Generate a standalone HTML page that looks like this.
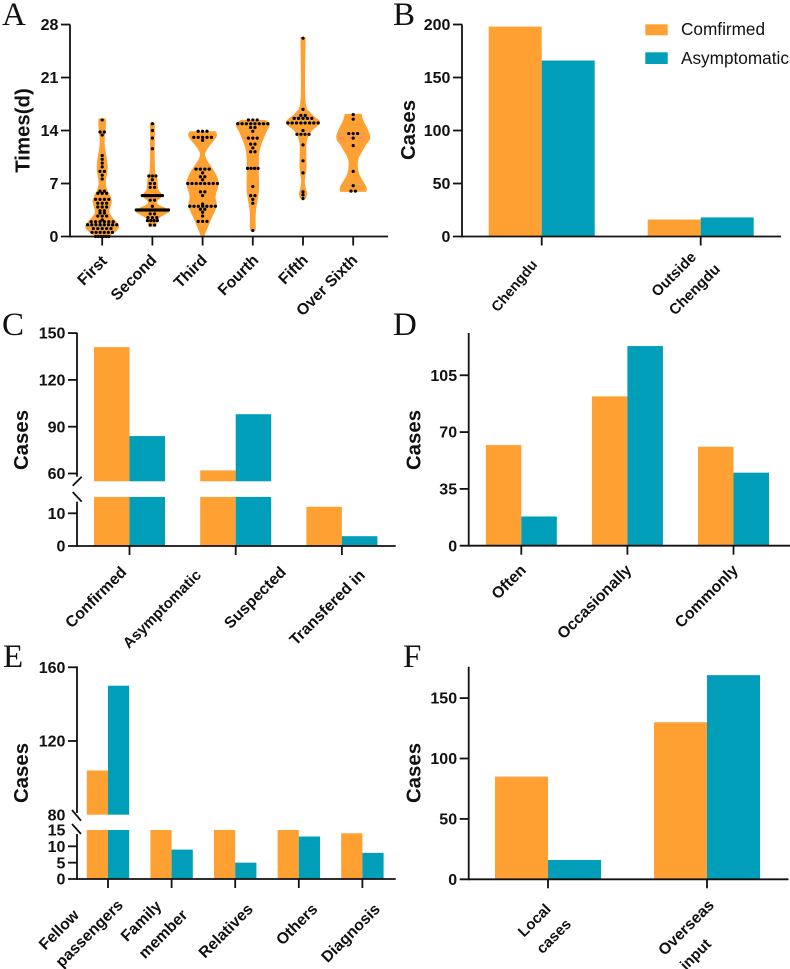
<!DOCTYPE html>
<html>
<head>
<meta charset="utf-8">
<title>Six panel case charts</title>
<style>
html,body{margin:0;padding:0;background:#fff;}
svg{display:block;}
text{font-family:"Liberation Sans",sans-serif;fill:#111;}
.panel-letter{font-family:"Liberation Serif",serif;font-size:33px;}
.tick{font-size:16px;font-weight:bold;text-anchor:end;}
.title{font-size:20.4px;font-weight:bold;text-anchor:middle;}
.cat{font-size:15.8px;font-weight:bold;text-anchor:end;}
.cat-small{font-size:15px;}
.leg{font-size:17.2px;}
</style>
</head>
<body>
<svg id="figure" xmlns="http://www.w3.org/2000/svg" width="790" height="969" viewBox="0 0 790 969">
<rect width="790" height="969" fill="#fff"/>
<g id="layer"></g>
<text class="panel-letter" x="2" y="25">A</text>
<text class="panel-letter" x="393" y="25">B</text>
<text class="panel-letter" x="2" y="335">C</text>
<text class="panel-letter" x="393" y="335">D</text>
<text class="panel-letter" x="3" y="667">E</text>
<text class="panel-letter" x="403" y="667">F</text>

<text class="title" transform="translate(29.5 130.5) rotate(-90)">Times(d)</text>
<text class="title" transform="translate(415 130) rotate(-90)">Cases</text>
<text class="title" transform="translate(28 440) rotate(-90)">Cases</text>
<text class="title" transform="translate(420.5 440) rotate(-90)">Cases</text>
<text class="title" transform="translate(28 773) rotate(-90)">Cases</text>
<text class="title" transform="translate(420.5 773) rotate(-90)">Cases</text>

<g>
<text class="cat" transform="translate(108 262) rotate(-45)">First</text>
<text class="cat" transform="translate(157.5 261) rotate(-45)">Second</text>
<text class="cat" transform="translate(208 261) rotate(-45)">Third</text>
<text class="cat" transform="translate(259.5 261) rotate(-45)">Fourth</text>
<text class="cat" transform="translate(309 261) rotate(-45)">Fifth</text>
<text class="cat" transform="translate(358.5 261) rotate(-45)">Over Sixth</text>
</g>
<g>
<text class="cat" style="font-size:14.4px" transform="translate(538 265) rotate(-50)">Chengdu</text>
<text class="cat cat-small" transform="translate(697 258) rotate(-45)">Outside</text>
<text class="cat cat-small" transform="translate(721 270) rotate(-45)">Chengdu</text>
</g>
<g>
<text class="cat" transform="translate(127.5 573) rotate(-45)">Confirmed</text>
<text class="cat" style="font-size:15px" transform="translate(202 576) rotate(-45)">Asymptomatic</text>
<text class="cat" transform="translate(287 573) rotate(-45)">Suspected</text>
<text class="cat" transform="translate(366 576) rotate(-45)">Transfered in</text>
</g>
<g>
<text class="cat" transform="translate(527 571) rotate(-45)">Often</text>
<text class="cat" transform="translate(632.5 571) rotate(-45)">Occasionally</text>
<text class="cat" transform="translate(739 571) rotate(-45)">Commonly</text>
</g>
<g>
<text class="cat" transform="translate(80 916) rotate(-45)">Fellow</text>
<text class="cat" transform="translate(124 906) rotate(-45)">passengers</text>
<text class="cat" transform="translate(162.5 907) rotate(-45)">Family</text>
<text class="cat" transform="translate(188.5 916) rotate(-45)">member</text>
<text class="cat" transform="translate(254 910) rotate(-45)">Relatives</text>
<text class="cat" transform="translate(318.5 910) rotate(-45)">Others</text>
<text class="cat" transform="translate(381 910) rotate(-45)">Diagnosis</text>
</g>
<g>
<text class="cat cat-small" transform="translate(551.7 910) rotate(-45)">Local</text>
<text class="cat cat-small" transform="translate(572 925) rotate(-45)">cases</text>
<text class="cat" transform="translate(715 906) rotate(-45)">Overseas</text>
<text class="cat cat-small" transform="translate(712 945) rotate(-45)">input</text>
</g>

<g>
<rect x="645.3" y="24.3" width="22.4" height="11" fill="#ffa033"/>
<text class="leg" x="681" y="35">Comfirmed</text>
<rect x="645.3" y="52.3" width="22.4" height="11.7" fill="#009eb8"/>
<text class="leg" x="681" y="64">Asymptomatic</text>
</g>
</svg>
<script>
// Panel A: violin outlines (value grid and density) and dot rows (value and count)
const violin1Grid = [15.6,14.5,12.3,9.2,6.8,4.8,3.1,1.3,0];
const violin1Density = [3.7,3.7,2.5,5.5,3.7,9.5,7.5,17,7];
const violin1Values = [15.4,13.8,13.4,10.7,10.2,9.7,9.2,8.6,8.1,7.6,6,5.7,4.9,4.4,3.9,3.4,3.1,2.7,2.2,1.95,1.55,1.05,0.55,0];
const violin1Counts = [1,2,1,1,1,1,1,2,1,1,2,3,4,3,3,2,2,3,1,6,8,5,6,6];
const violin2Grid = [15,9.2,7.5,6.2,5.4,4.4,3.4,2.4,1.3];
const violin2Density = [2.5,2.5,5,6,10,4.5,17,6.5,3.5];
const violin2Values = [14.9,14,13,11.6,8,7.5,7,6.5,5.4,4.8,4,3.5,3,2.5,2.1,1.5];
const violin2Counts = [1,1,1,1,3,1,2,2,12,2,1,26,2,3,4,2];
const violin3Grid = [13.9,13.2,11.6,10.5,8.3,7,5.3,4,2.1,0];
const violin3Density = [13,14,5,3,13,16,13,14,8,1.5];
const violin3Values = [13.9,13.1,12.7,8.9,8.4,7.9,7.5,7,5.9,5.4,4.3,4,3.6,3.2,2.7,2];
const violin3Counts = [3,5,1,4,1,2,1,8,2,1,1,7,2,1,1,3];
const violin4Grid = [15.4,14.8,13.6,11.4,8.9,6,3.2,0.8];
const violin4Density = [12,17,13,7,6,6,3,3];
const violin4Values = [15.4,14.9,14.4,13.9,13,12.2,11.7,11.2,9,6.6,5.4,4.9,4.4,0.8];
const violin4Counts = [3,8,2,1,3,2,1,2,4,1,2,1,1,1];
const violin5Grid = [26.3,25.5,18,16.3,15.1,13.8,12.3,9.2,7.2,5.7,5];
const violin5Density = [3,2.5,2.5,8,17,8,3.5,3.5,1.8,4,3];
const violin5Values = [26.2,16.8,16,15.6,15,14,13.5,12.1,10,8.4,5.9,5.5,5];
const violin5Counts = [1,1,2,5,8,1,4,1,1,1,1,1,1];
const violin6Grid = [16.2,15.4,13.2,11.9,10.1,8.3,6.6,5.9];
const violin6Density = [8.5,10,17,12,5,6,13,13];
const violin6Values = [16.1,15.5,13.6,13,12,8.6,6.7,6];
const violin6Counts = [1,1,3,1,1,1,1,2];
const violinMedians = [2.7,3.5,7,13,15,13];
const violinLowerQuartiles = [1.4,3.5,4,9,15,6.7];
const violinUpperQuartiles = [5.7,5.4,8.9,14.9,15.7,13.6];

// Tick labels
const ticksA = [0,7,14,21,28];
const ticksB = [0,50,100,150,200];
const ticksCUpper = [60,90,120,150];
const ticksCLower = [0,10];
const ticksD = [0,35,70,105];
const ticksEUpper = [80,120,160];
const ticksELower = [0,5,10,15];
const ticksF = [0,50,100,150];

// Bar values
const panelBConfirmed = [198,16];
const panelBAsymptomatic = [166,18];
const panelCConfirmed = [141,62,12];
const panelCAsymptomatic = [84,98,3];
const panelDConfirmed = [62,92,61];
const panelDAsymptomatic = [18,123,45];
const panelEConfirmed = [104,15,15,15,14];
const panelEAsymptomatic = [150,9,5,13,8];
const panelFConfirmed = [85,130];
const panelFAsymptomatic = [16,169];

const ORANGE = '#ffa033', TEAL = '#009eb8', INK = '#111';
const layer = document.getElementById('layer');
const NS = 'http://www.w3.org/2000/svg';

function mk(tag, attrs, name, parent) {
  const node = document.createElementNS(NS, tag);
  for (const k in attrs) node.setAttribute(k, attrs[k]);
  
  
  (parent || layer).appendChild(node);
  return node;
}
function line(x1, y1, x2, y2, name) {
  return mk('line', {x1, y1, x2, y2, stroke: INK, 'stroke-width': 1.8}, name);
}
function yTicks(values, scale, axisX, len, prefix, skipMarks) {
  values.forEach(v => {
    const y = scale(v);
    if (!(skipMarks || []).includes(v)) line(axisX - len, y, axisX, y, prefix + '-tick-' + v);
    const t = mk('text', {class: 'tick', x: axisX - len - 2.6, y: y + 5.6}, prefix + '-tick-label-' + v);
    t.textContent = v;
  });
}
function xTicks(centers, axisY, prefix) {
  centers.forEach((x, i) => line(x, axisY, x, axisY + 9, prefix + '-x-tick-' + i));
}
function bar(x, w, y0, y1, fill, name) {
  mk('rect', {x, y: Math.min(y0, y1), width: w, height: Math.abs(y1 - y0), fill}, name);
}
function centers(first, step, n) {
  return Array.from({length: n}, (_, i) => first + i * step);
}

// simple grouped bars
function simpleBars(conf, asym, cs, w, scale, prefix) {
  cs.forEach((c, i) => {
    bar(c - w, w, scale(0), scale(conf[i]), ORANGE, prefix + '-bar-confirmed-' + i);
    bar(c, w, scale(0), scale(asym[i]), TEAL, prefix + '-bar-asymptomatic-' + i);
  });
}
// broken-axis grouped bars
function brokenBars(conf, asym, cs, w, upper, lower, lowMax, upMin, prefix) {
  [[conf, -w, ORANGE, 'confirmed'], [asym, 0, TEAL, 'asymptomatic']].forEach(s => {
    cs.forEach((c, i) => {
      const v = s[0][i];
      bar(c + s[1], w, lower(0), lower(Math.min(v, lowMax)), s[2], prefix + '-bar-' + s[3] + '-' + i);
      if (v > lowMax) bar(c + s[1], w, upper(upMin), upper(v), s[2], prefix + '-bar-upper-' + s[3] + '-' + i);
    });
  });
}

/* ---------- Panel A ---------- */
const yA = v => 236.5 - 7.57 * v;
const centersA = centers(102.2, 50.2, 6);
const violins = [
  [violin1Grid, violin1Density, violin1Values, violin1Counts],
  [violin2Grid, violin2Density, violin2Values, violin2Counts],
  [violin3Grid, violin3Density, violin3Values, violin3Counts],
  [violin4Grid, violin4Density, violin4Values, violin4Counts],
  [violin5Grid, violin5Density, violin5Values, violin5Counts],
  [violin6Grid, violin6Density, violin6Values, violin6Counts]
];
function densityAt(grid, dens, v) {
  for (let i = 0; i < grid.length - 1; i++) {
    if (v <= grid[i] && v >= grid[i + 1]) {
      const t = (grid[i] - v) / (grid[i] - grid[i + 1]);
      return dens[i] + t * (dens[i + 1] - dens[i]);
    }
  }
  return dens[dens.length - 1];
}
function sidePath(pts) {
  let d = '';
  for (let i = 0; i < pts.length - 1; i++) {
    const p0 = pts[Math.max(i - 1, 0)], p1 = pts[i], p2 = pts[i + 1], p3 = pts[Math.min(i + 2, pts.length - 1)];
    const c1 = [p1[0] + (p2[0] - p0[0]) / 6, p1[1] + (p2[1] - p0[1]) / 6];
    const c2 = [p2[0] - (p3[0] - p1[0]) / 6, p2[1] - (p3[1] - p1[1]) / 6];
    d += 'C' + c1[0].toFixed(2) + ' ' + c1[1].toFixed(2) + ' ' + c2[0].toFixed(2) + ' ' + c2[1].toFixed(2) + ' ' + p2[0].toFixed(2) + ' ' + p2[1].toFixed(2);
  }
  return d;
}
violins.forEach((vn, idx) => {
  const cx = centersA[idx], grid = vn[0], dens = vn[1], vals = vn[2], cnts = vn[3];
  const right = grid.map((v, i) => [cx + dens[i], yA(v)]);
  const left = grid.map((v, i) => [cx - dens[i], yA(v)]).reverse();
  const d = 'M' + right[0][0] + ' ' + right[0][1] + sidePath(right) + 'L' + left[0][0] + ' ' + left[0][1] + sidePath(left) + 'Z';
  mk('path', {d, fill: ORANGE}, 'violin-' + (idx + 1));
  const hw = v => densityAt(grid, dens, v);
  const quartileColor = idx === 5 ? '#8fa9b8' : '#2aa3e0';
  const quartileDash = idx === 5 ? '1.5 2.5' : '5 6';
  [[violinMedians[idx], '#ff6fa8', 'median', '5 5'], [violinLowerQuartiles[idx], quartileColor, 'lower-quartile', quartileDash], [violinUpperQuartiles[idx], quartileColor, 'upper-quartile', quartileDash]].forEach(q => {
    const h = hw(q[0]);
    mk('line', {x1: cx - h + 2, y1: yA(q[0]), x2: cx + h - 2, y2: yA(q[0]), stroke: q[1], 'stroke-width': 1.2, 'stroke-dasharray': q[3]}, 'violin-' + (idx + 1) + '-' + q[2]);
  });
  vals.forEach((v, r) => {
    const n = cnts[r];
    const sp = Math.min(4.4, (2 * hw(v) + 2) / n);
    for (let k = 0; k < n; k++) {
      mk('circle', {cx: cx + (k - (n - 1) / 2) * sp, cy: yA(v), r: 1.6, fill: '#000'}, 'violin-' + (idx + 1) + '-dot');
    }
  });
});
line(70, 24.5, 70, 237.4, 'y-axis-a');
line(61, 236.5, 388, 236.5, 'x-axis-a');
yTicks(ticksA, yA, 70, 9, 'a', [0]);
xTicks(centersA, 236.5, 'a');

/* ---------- Panel B ---------- */
const yB = v => 236.5 - 1.06 * v;
const centersB = centers(541.7, 159, 2);
simpleBars(panelBConfirmed, panelBAsymptomatic, centersB, 53, yB, 'b');
line(462, 24.5, 462, 237.4, 'y-axis-b');
line(453, 236.5, 781, 236.5, 'x-axis-b');
yTicks(ticksB, yB, 462, 9, 'b', [0]);
xTicks(centersB, 236.5, 'b');

/* ---------- Panel C ---------- */
const yCUpper = v => 473.5 - 1.56 * (v - 60);
const yCLower = v => 546 - 3.27 * v;
const centersC = centers(129.5, 106.2, 3);
brokenBars(panelCConfirmed, panelCAsymptomatic, centersC, 35.5, yCUpper, yCLower, 15, 55, 'c');
line(77, 332.6, 77, 476.7, 'y-axis-c-upper');
line(77, 501.7, 77, 546.9, 'y-axis-c-lower');
line(72.7, 485.7, 81.7, 476.7, 'axis-break-c-upper');
line(72.7, 492, 81.7, 501.7, 'axis-break-c-lower');
line(68, 546, 395.7, 546, 'x-axis-c');
yTicks(ticksCUpper, yCUpper, 77, 9, 'c');
yTicks(ticksCLower, yCLower, 77, 9, 'c', [0]);
xTicks(centersC, 546, 'c');

/* ---------- Panel D ---------- */
const yD = v => 545.7 - 1.623 * v;
const centersD = centers(521.3, 106.1, 3);
simpleBars(panelDConfirmed, panelDAsymptomatic, centersD, 35.5, yD, 'd');
line(468.7, 333, 468.7, 546.6, 'y-axis-d');
line(459.7, 545.7, 790, 545.7, 'x-axis-d');
yTicks(ticksD, yD, 468.7, 9, 'd', [0]);
xTicks(centersD, 545.7, 'd');

/* ---------- Panel E ---------- */
const yEUpper = v => 814.7 - 1.8425 * (v - 80);
const yELower = v => 879 - 3.267 * v;
const centersE = centers(108, 63.6, 5);
brokenBars(panelEConfirmed, panelEAsymptomatic, centersE, 21.2, yEUpper, yELower, 15, 80, 'e');
line(77, 666.4, 77, 813, 'y-axis-e-upper');
line(77, 834, 77, 879.9, 'y-axis-e-lower');
line(72, 810, 81, 820.7, 'axis-break-e-upper');
line(72, 824, 81, 834, 'axis-break-e-lower');
line(68, 879, 395.7, 879, 'x-axis-e');
yTicks(ticksEUpper, yEUpper, 77, 9, 'e', [80]);
yTicks(ticksELower, yELower, 77, 9, 'e', [0, 15]);
xTicks(centersE, 879, 'e');

/* ---------- Panel F ---------- */
const yF = v => 879.3 - 1.208 * v;
const centersF = centers(548, 159, 2);
simpleBars(panelFConfirmed, panelFAsymptomatic, centersF, 53, yF, 'f');
line(468.7, 666.7, 468.7, 880.2, 'y-axis-f');
line(459.7, 879.3, 788.5, 879.3, 'x-axis-f');
yTicks(ticksF, yF, 468.7, 9, 'f', [0]);
xTicks(centersF, 879.3, 'f');
</script>
</body>
</html>
